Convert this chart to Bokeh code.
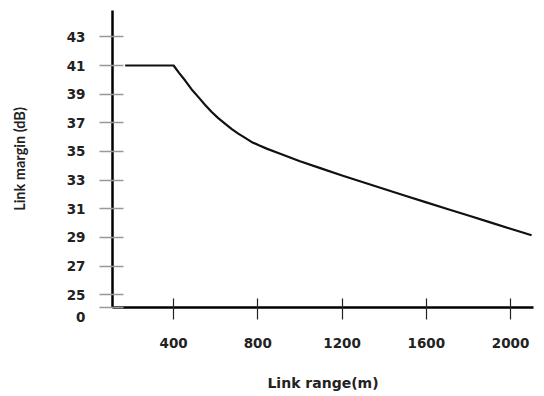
from bokeh.plotting import figure
from bokeh.models import FixedTicker, Range1d
from bokeh.embed import file_html
from bokeh.resources import INLINE

# Data
link_range_m = [170, 400, 425, 455, 485, 517, 550, 580, 612, 644, 675, 707, 740, 770, 805,
                842, 900, 1000, 1100, 1200, 1300, 1400, 1500, 1600, 1700, 1800, 1900, 2000, 2100]
link_margin_db = [41, 41, 40.5, 39.95, 39.35, 38.81, 38.25, 37.77, 37.33, 36.95, 36.58, 36.25, 35.95, 35.67, 35.43,
                  35.2, 34.88, 34.32, 33.82, 33.32, 32.85, 32.38, 31.91, 31.45, 30.99, 30.53, 30.07, 29.61, 29.15]

x_ticks = [400, 800, 1200, 1600, 2000]
y_ticks = [25, 27, 29, 31, 33, 35, 37, 39, 41, 43]
origin_label = "0"

x_start, x_end = 110, 2109
y_start, y_end = 24.11, 44.84

p = figure(width=540, height=395, output_backend="svg", toolbar_location=None,
           x_range=Range1d(x_start, x_end), y_range=Range1d(y_start, y_end),
           min_border_left=112, min_border_right=7, min_border_top=10, min_border_bottom=88)
p.outline_line_color = None
p.xgrid.visible = False
p.ygrid.visible = False
p.background_fill_color = "white"

p.line(link_range_m, link_margin_db, line_color="#111111", line_width=2.2,
       line_join="round")

tick_font = "DejaVu Sans"

p.xaxis.ticker = FixedTicker(ticks=x_ticks)
p.xaxis.axis_line_width = 2.5
p.xaxis.axis_line_color = "black"
p.xaxis.major_tick_in = 9
p.xaxis.major_tick_out = 12
p.xaxis.major_tick_line_color = "#222222"
p.xaxis.major_tick_line_width = 1.2
p.xaxis.minor_tick_line_color = None
p.xaxis.major_label_standoff = 18
p.xaxis.major_label_text_font = tick_font
p.xaxis.major_label_text_font_style = "bold"
p.xaxis.major_label_text_font_size = "13.5px"
p.xaxis.major_label_text_color = "#222222"
p.xaxis.axis_label = "Link range(m)"
p.xaxis.axis_label_standoff = 24
p.xaxis.axis_label_text_font = tick_font
p.xaxis.axis_label_text_font_style = "bold"
p.xaxis.axis_label_text_font_size = "14px"
p.xaxis.axis_label_text_color = "#222222"

# the origin "0" sits just below the corner, as the bottom entry of the y labels
p.yaxis.ticker = FixedTicker(ticks=[y_start] + y_ticks)
p.yaxis.major_label_overrides = {y_start: "\n" + origin_label}
p.yaxis.axis_line_width = 2.5
p.yaxis.axis_line_color = "black"
p.yaxis.major_tick_in = 11
p.yaxis.major_tick_out = 13
p.yaxis.major_tick_line_color = "#999999"
p.yaxis.major_tick_line_width = 1.5
p.yaxis.minor_tick_line_color = None
p.yaxis.major_label_standoff = 14
p.yaxis.major_label_text_font = tick_font
p.yaxis.major_label_text_font_style = "bold"
p.yaxis.major_label_text_font_size = "13.5px"
p.yaxis.major_label_text_color = "#222222"
p.yaxis.axis_label = "Link margin (dB)"
p.yaxis.axis_label_standoff = 36
p.yaxis.axis_label_text_font = "Lato"
p.yaxis.axis_label_text_font_style = "bold"
p.yaxis.axis_label_text_font_size = "14.5px"
p.yaxis.axis_label_text_color = "#222222"

open("out.html", "w").write(file_html(p, INLINE))
